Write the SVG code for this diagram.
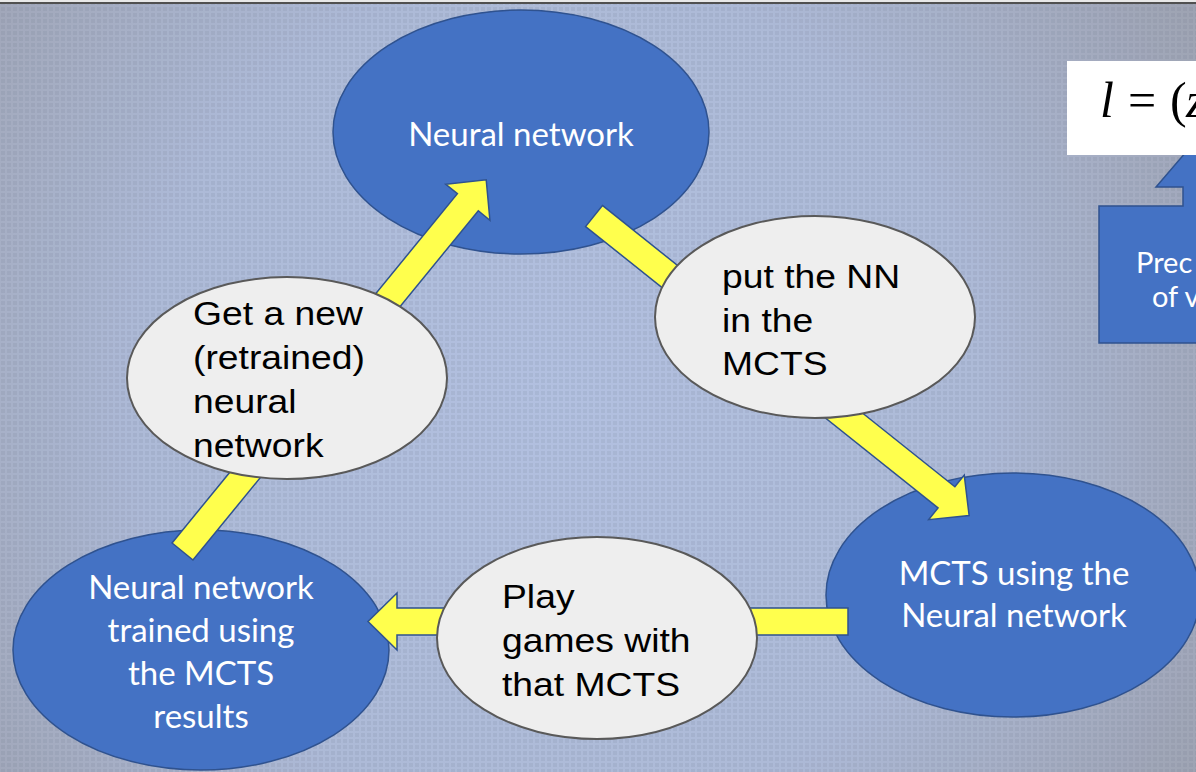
<svg xmlns="http://www.w3.org/2000/svg" xmlns:xlink="http://www.w3.org/1999/xlink" width="1196" height="772" viewBox="0 0 1196 772">
  <style>
    .blue { fill: #4472c4; stroke: #2f528f; stroke-width: 1.5; }
    .bubble { fill: #eeeeee; stroke: #595959; stroke-width: 2; }
    .arrow { fill: #ffff4d; stroke: #2f528f; stroke-width: 1.5; stroke-linejoin: miter; }
    .wt { fill: #ffffff; font-family: Lato, "Open Sans", sans-serif; font-size: 33px; text-anchor: middle; }
    .bt { fill: #000000; font-family: "Liberation Sans", Arial, sans-serif; font-size: 33px; }
    .math { font-family: "Liberation Serif", "DejaVu Serif", serif; font-size: 50px; fill: #000; }
  </style>
  <defs>
    <radialGradient id="bg" cx="560" cy="400" r="760" gradientUnits="userSpaceOnUse">
      <stop offset="0" stop-color="#abbbdd"/>
      <stop offset="0.55" stop-color="#a6b4d4"/>
      <stop offset="1" stop-color="#959aaa"/>
    </radialGradient>
    <pattern id="grid" width="6" height="6" patternUnits="userSpaceOnUse">
      <rect x="0" y="0" width="6" height="6" fill="#ffffff" fill-opacity="0.08"/>
      <rect x="1" y="1" width="4" height="4" fill="#5a6478" fill-opacity="0.10"/>
    </pattern>
    <!-- block arrow pointing along +x, tail at origin -->
    <polygon id="arrowShape" points="0,-13.5 451,-13.5 451,-28.5 480,0 451,28.5 451,13.5 0,13.5"/>
  </defs>

  <!-- backdrop -->
  <rect x="0" y="0" width="1196" height="772" fill="url(#bg)"/>
  <rect x="0" y="0" width="1196" height="772" fill="url(#grid)"/>
  <rect x="0" y="0" width="1196" height="2" fill="#e8e8e8"/>
  <rect x="0" y="2" width="1196" height="2" fill="#505050"/>

  <!-- loss formula and its callout -->
  <g id="loss-callout">
    <polygon class="blue" points="1099,206 1183,206 1183,187 1156,187 1210,124 1264,187 1237,187 1237,206 1300,206 1300,343 1099,343"/>
    <text class="wt" x="1136" y="273" style="font-size:29px;text-anchor:start">Prec</text>
    <text class="wt" x="1152" y="307" style="font-size:29px;text-anchor:start">of v</text>
  </g>
  <g id="loss-formula">
    <rect x="1067" y="61" width="140" height="94" fill="#ffffff"/>
    <text class="math" y="117"><tspan x="1100" font-style="italic">l</tspan><tspan x="1128">=</tspan><tspan x="1170">(</tspan><tspan x="1186" font-style="italic">z</tspan></text>
  </g>

  <!-- main states -->
  <g id="node-neural-network">
    <ellipse class="blue" cx="521" cy="132" rx="188" ry="122"/>
    <text class="wt" x="521" y="146">Neural network</text>
  </g>
  <g id="node-mcts-nn">
    <ellipse class="blue" cx="1013" cy="595" rx="187" ry="122"/>
    <text class="wt" x="1014" y="585">MCTS using the</text>
    <text class="wt" x="1014" y="627">Neural network</text>
  </g>
  <g id="node-trained-nn">
    <ellipse class="blue" cx="201" cy="650" rx="188" ry="120"/>
    <text class="wt" x="201" y="599">Neural network</text>
    <text class="wt" x="201" y="642">trained using</text>
    <text class="wt" x="201" y="685">the MCTS</text>
    <text class="wt" x="201" y="728">results</text>
  </g>

  <!-- cycle arrows -->
  <g id="connectors" class="arrow">
    <use xlink:href="#arrowShape" transform="translate(182.5,551.5) rotate(-50.75)"/>
    <use xlink:href="#arrowShape" transform="translate(594,216) rotate(38.6)"/>
    <use xlink:href="#arrowShape" transform="translate(848,621.5) rotate(180)"/>
  </g>

  <!-- step labels -->
  <g id="step-put-nn">
    <ellipse class="bubble" cx="815" cy="317" rx="160" ry="101"/>
    <text class="bt" transform="translate(722,288) scale(1.13,1)">put the NN</text>
    <text class="bt" transform="translate(722,332) scale(1.13,1)">in the</text>
    <text class="bt" transform="translate(722,375) scale(1.13,1)">MCTS</text>
  </g>
  <g id="step-play-games">
    <ellipse class="bubble" cx="597" cy="638" rx="160" ry="101"/>
    <text class="bt" transform="translate(502,608) scale(1.13,1)">Play</text>
    <text class="bt" transform="translate(502,652) scale(1.13,1)">games with</text>
    <text class="bt" transform="translate(502,696) scale(1.13,1)">that MCTS</text>
  </g>
  <g id="step-new-nn">
    <ellipse class="bubble" cx="287" cy="378" rx="160" ry="101"/>
    <text class="bt" transform="translate(193,325) scale(1.13,1)">Get a new</text>
    <text class="bt" transform="translate(193,369) scale(1.13,1)">(retrained)</text>
    <text class="bt" transform="translate(193,413) scale(1.13,1)">neural</text>
    <text class="bt" transform="translate(193,457) scale(1.13,1)">network</text>
  </g>
</svg>
